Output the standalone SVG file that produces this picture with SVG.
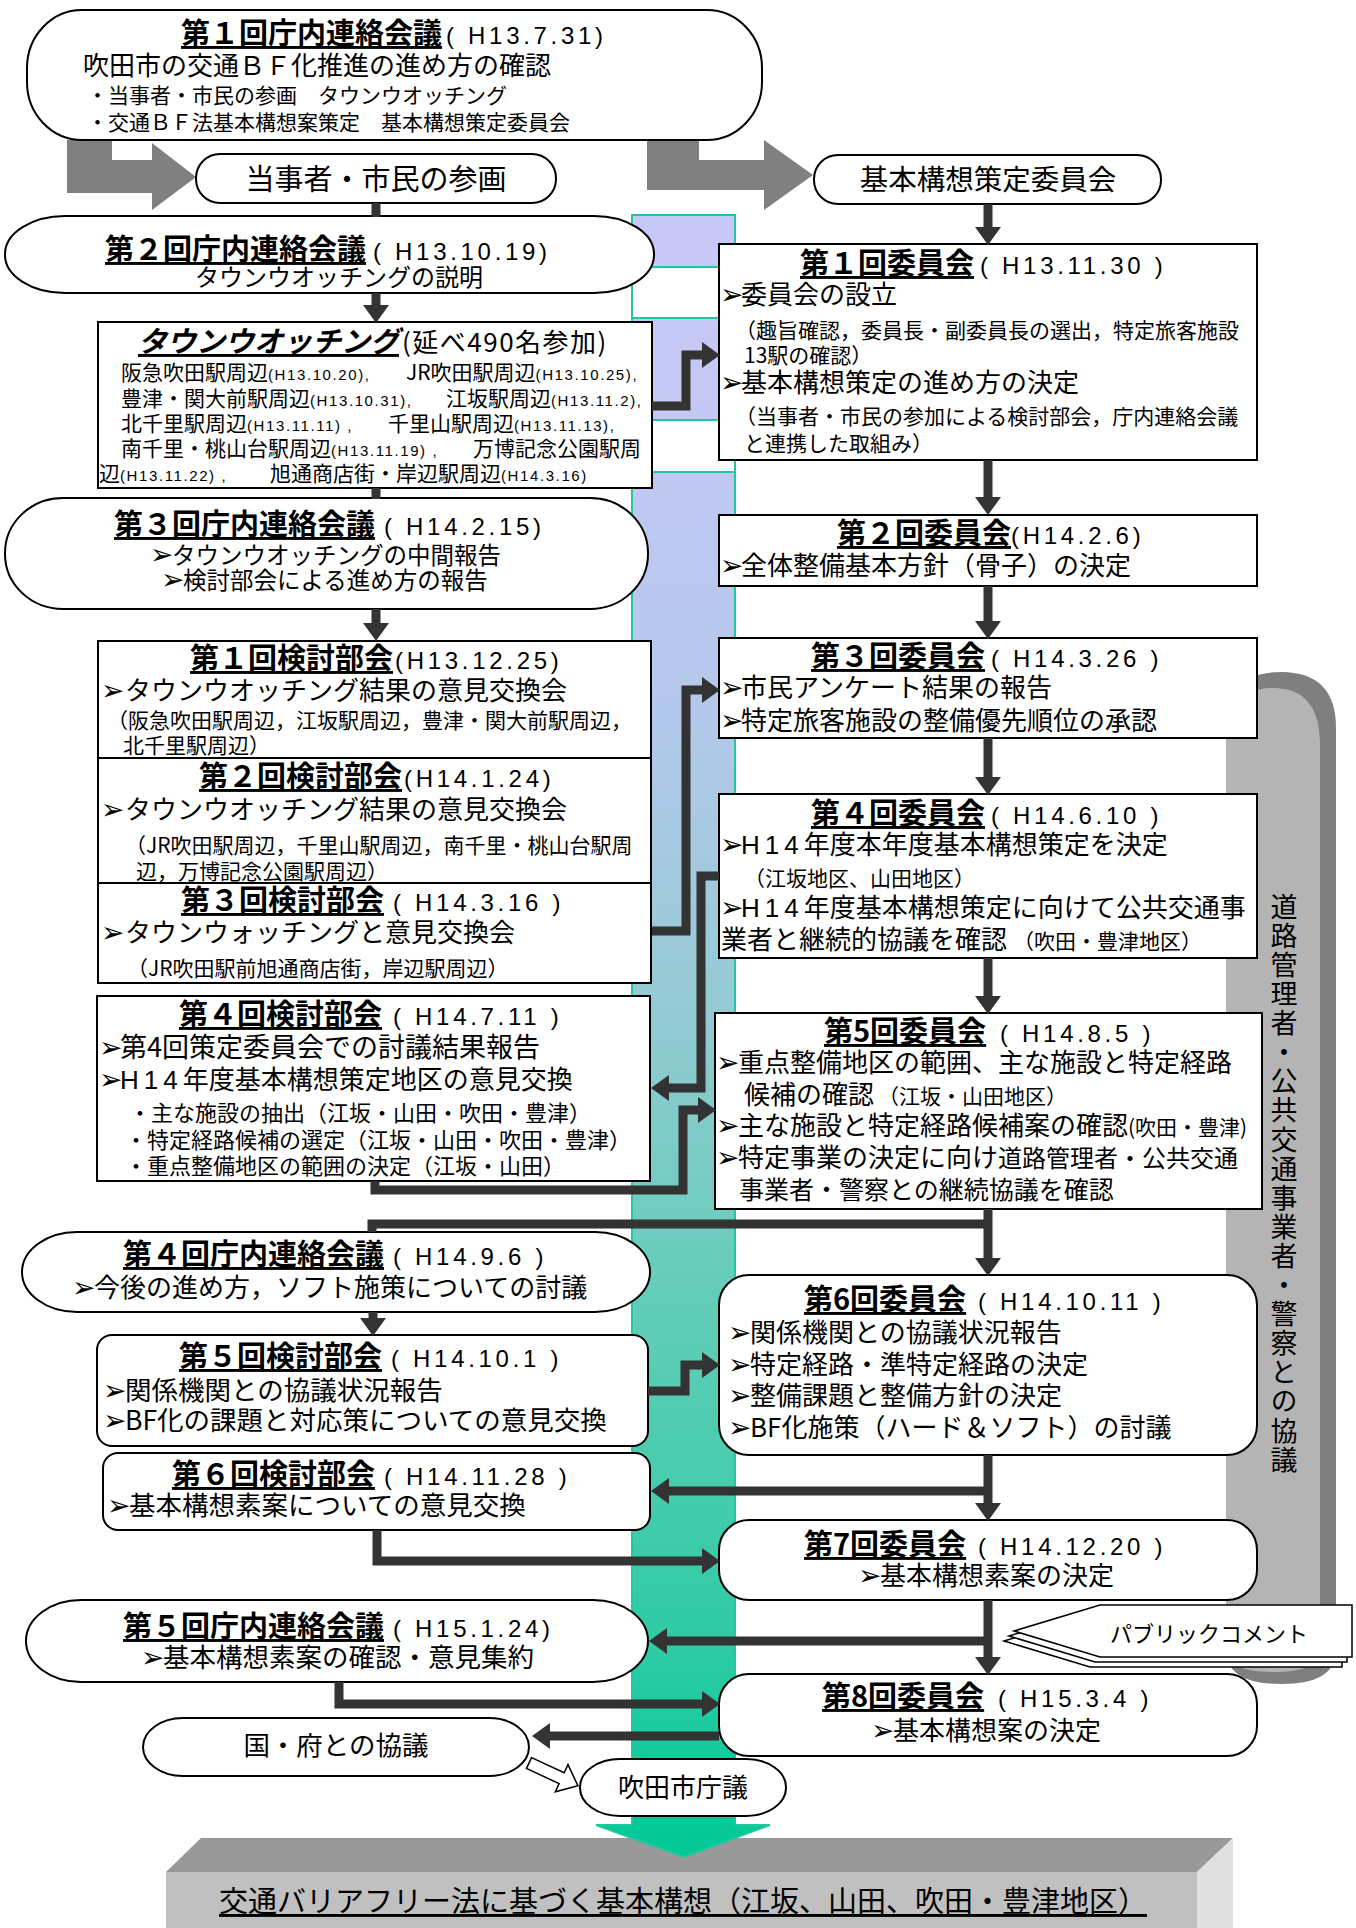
<svg xmlns="http://www.w3.org/2000/svg" width="1356" height="1928" viewBox="0 0 1356 1928">
<defs>
<linearGradient id="bandg" gradientUnits="userSpaceOnUse" x1="0" y1="215" x2="0" y2="1857">
<stop offset="0" stop-color="#c8c8f8"/>
<stop offset="0.11" stop-color="#c4c8f4"/>
<stop offset="0.30" stop-color="#b4c8ec"/>
<stop offset="0.48" stop-color="#95cad4"/>
<stop offset="0.66" stop-color="#62cdb8"/>
<stop offset="0.87" stop-color="#2ecba4"/>
<stop offset="1" stop-color="#00c896"/>
</linearGradient>
<marker id="ah" markerUnits="userSpaceOnUse" markerWidth="18" markerHeight="26" viewBox="0 0 18 26" refX="0" refY="13" orient="auto"><path d="M0,0 L18,13 L0,26 Z" fill="#333"/></marker>
<polygon id="paper" points="1014,1631 1100,1605 1352,1605 1352,1657 1100,1657"/>
</defs>
<style>
text{font-family:"Noto Sans CJK JP","Noto Sans CJK SC",sans-serif;fill:#000}
.n{fill:#fff;stroke:#000;stroke-width:2}
.h{font-weight:bold;text-decoration:underline;font-size:29px}
.d{font-family:"Liberation Sans","Noto Sans CJK JP",sans-serif;font-size:24px;letter-spacing:3.7px}
.s{font-family:"Liberation Sans","Noto Sans CJK JP",sans-serif;font-size:15px;letter-spacing:1.6px}
.hh{font-family:"Liberation Sans","Noto Sans CJK JP",sans-serif;font-size:26px;letter-spacing:5px}
.bu{font-family:"DejaVu Sans",sans-serif;font-size:28px}
.c{fill:none;stroke:#333;stroke-width:9}
.a{marker-end:url(#ah)}
.f26{font-size:26px}.f21{font-size:21px}.f22{font-size:22px}
</style>

<!-- bottom block -->
<g id="result">
<polygon points="166,1872 201,1838 1233,1838 1197,1872" fill="#999"/>
<rect x="166" y="1872" width="1031" height="56" fill="#c0c0c0"/>
<polygon points="1197,1872 1233,1838 1233,1928 1197,1928" fill="#e0e0e0"/>
<text x="219" y="1912" font-size="29" text-decoration="underline">交通バリアフリー法に基づく基本構想（江坂、山田、吹田・豊津地区）</text>
</g>

<!-- band -->
<g id="band">
<polygon points="632,215 735,215 735,1825 770,1825 684,1857 596,1825 632,1825" fill="url(#bandg)" stroke="#20c8a0" stroke-width="2"/>
<rect x="633" y="268" width="101" height="49" fill="#fff"/>
<rect x="633" y="421" width="101" height="50" fill="#fff"/>
<path d="M632,267 H735 M632,318 H735 M632,420 H735 M632,472 H735" stroke="#20c8a0" stroke-width="2" fill="none"/>
</g>

<!-- side bar -->
<g id="side">
<path d="M1226,1650 V728 Q1226,672 1281,672 Q1336,672 1336,728 V1650 Q1336,1684 1281,1684 Q1226,1684 1226,1650 Z" fill="#7f7f7f"/>
<path d="M1226,1650 V745 Q1226,688 1273,688 Q1320,688 1320,745 V1650 Q1320,1672 1273,1672 Q1226,1672 1226,1650 Z" fill="#b4b4b4"/>
<text x="1284" y="893" font-size="27" style="writing-mode:vertical-rl;letter-spacing:2.1px">道路管理者・公共交通事業者・警察との協議</text>
</g>

<!-- gray arrows -->
<g id="bigarrows" fill="#808080">
<polygon points="67,140 67,193 152,193 152,210 196,177 152,143 152,160 112,160 112,140"/>
<polygon points="647,140 647,190 764,190 764,210 813,175 764,140 764,160 699,160 699,140"/>
</g>

<g id="renraku1">
<rect class="n" x="27" y="10" width="735" height="130" rx="55" ry="58"/>
<text x="181" y="44"><tspan class="h">第１回庁内連絡会議</tspan><tspan class="d" x="446">( H13.7.31)</tspan></text>
<text x="83" y="75" class="f26">吹田市の交通ＢＦ化推進の進め方の確認</text>
<text x="87" y="103" class="f21">・当事者・市民の参画　タウンウオッチング</text>
<text x="87" y="130" class="f21">・交通ＢＦ法基本構想案策定　基本構想策定委員会</text>
</g>

<g id="sanka">
<rect class="n" x="196" y="154" width="360" height="49" rx="24"/>
<text x="376" y="190" text-anchor="middle" font-size="29">当事者・市民の参画</text>
</g>

<g id="iinkai">
<rect class="n" x="814" y="155" width="347" height="49" rx="24"/>
<text x="988" y="190" text-anchor="middle" font-size="28.5">基本構想策定委員会</text>
</g>

<g id="renraku2">
<rect class="n" x="5" y="216" width="649" height="77" rx="60" ry="38"/>
<text x="105" y="260"><tspan class="h">第２回庁内連絡会議</tspan><tspan class="d" x="373">( H13.10.19)</tspan></text>
<text x="339" y="286" text-anchor="middle" font-size="24">タウンウオッチングの説明</text>
</g>

<g id="townwatching">
<rect class="n" x="98" y="322" width="554" height="166"/>
<text x="138" y="352"><tspan font-weight="bold" font-style="italic" text-decoration="underline" font-size="29">タウンウオッチング</tspan><tspan font-size="26" x="402" letter-spacing="1.5">(延べ490名参加)</tspan></text>
<text y="380" class="f21"><tspan x="121">阪急吹田駅周辺</tspan><tspan class="s">(H13.10.20),</tspan><tspan x="406">JR吹田駅周辺</tspan><tspan class="s">(H13.10.25),</tspan></text>
<text y="406" class="f21"><tspan x="121">豊津・関大前駅周辺</tspan><tspan class="s">(H13.10.31),</tspan><tspan x="446">江坂駅周辺</tspan><tspan class="s">(H13.11.2),</tspan></text>
<text y="431" class="f21"><tspan x="121">北千里駅周辺</tspan><tspan class="s">(H13.11.11) ,</tspan><tspan x="388">千里山駅周辺</tspan><tspan class="s">(H13.11.13),</tspan></text>
<text y="456" class="f21"><tspan x="121">南千里・桃山台駅周辺</tspan><tspan class="s">(H13.11.19) ,</tspan><tspan x="473">万博記念公園駅周</tspan></text>
<text y="481" class="f21"><tspan x="99">辺</tspan><tspan class="s">(H13.11.22) ,</tspan><tspan x="270">旭通商店街・岸辺駅周辺</tspan><tspan class="s">(H14.3.16)</tspan></text>
</g>

<g id="renraku3">
<rect class="n" x="5" y="498" width="643" height="111" rx="58" ry="55"/>
<text x="114" y="535"><tspan class="h">第３回庁内連絡会議</tspan><tspan class="d" x="384">( H14.2.15)</tspan></text>
<text y="564" font-size="23.5"><tspan class="bu" x="150">➢</tspan><tspan x="172">タウンウオッチングの中間報告</tspan></text>
<text y="589" font-size="23.5"><tspan class="bu" x="161">➢</tspan><tspan x="183">検討部会による進め方の報告</tspan></text>
</g>

<g id="kentou1">
<rect class="n" x="98" y="641" width="553" height="117"/>
<text x="190" y="669"><tspan class="h">第１回検討部会</tspan><tspan class="d" x="395">(H13.12.25)</tspan></text>
<text y="700" class="f26"><tspan class="bu" x="101">➢</tspan><tspan x="125">タウンウオッチング結果の意見交換会</tspan></text>
<text x="107" y="728" class="f21">（阪急吹田駅周辺，江坂駅周辺，豊津・関大前駅周辺，</text>
<text x="123" y="753" class="f21">北千里駅周辺）</text>
</g>

<g id="kentou2">
<rect class="n" x="98" y="758" width="553" height="125"/>
<text x="199" y="787"><tspan class="h">第２回検討部会</tspan><tspan class="d" x="404">(H14.1.24)</tspan></text>
<text y="819" class="f26"><tspan class="bu" x="101">➢</tspan><tspan x="125">タウンウオッチング結果の意見交換会</tspan></text>
<text x="125" y="853" class="f21">（JR吹田駅周辺，千里山駅周辺，南千里・桃山台駅周</text>
<text x="136" y="879" class="f21">辺，万博記念公園駅周辺）</text>
</g>

<g id="kentou3">
<rect class="n" x="98" y="883" width="553" height="100"/>
<text x="181" y="911"><tspan class="h">第３回検討部会</tspan><tspan class="d" x="393">( H14.3.16 )</tspan></text>
<text y="942" class="f26"><tspan class="bu" x="101">➢</tspan><tspan x="125">タウンウォッチングと意見交換会</tspan></text>
<text x="127" y="976" class="f21">（JR吹田駅前旭通商店街，岸辺駅周辺）</text>
</g>

<g id="kentou4">
<rect class="n" x="97" y="996" width="553" height="185"/>
<text x="179" y="1025"><tspan class="h">第４回検討部会</tspan><tspan class="d" x="393">( H14.7.11 )</tspan></text>
<text y="1057" font-size="27"><tspan class="bu" x="99">➢</tspan><tspan x="120">第4回策定委員会での討議結果報告</tspan></text>
<text y="1089" class="f26"><tspan class="bu" x="99">➢</tspan><tspan class="hh" x="120">H14</tspan><tspan>年度基本構想策定地区の意見交換</tspan></text>
<text x="129" y="1121" class="f22">・主な施設の抽出（江坂・山田・吹田・豊津）</text>
<text x="125" y="1148" class="f22">・特定経路候補の選定（江坂・山田・吹田・豊津）</text>
<text x="125" y="1174" class="f22">・重点整備地区の範囲の決定（江坂・山田）</text>
</g>

<g id="renraku4">
<rect class="n" x="22" y="1232" width="628" height="80" rx="55" ry="40"/>
<text x="123" y="1265"><tspan class="h">第４回庁内連絡会議</tspan><tspan class="d" x="393">( H14.9.6 )</tspan></text>
<text y="1297" class="f26"><tspan class="bu" x="72">➢</tspan><tspan x="94">今後の進め方，ソフト施策についての討議</tspan></text>
</g>

<g id="kentou5">
<rect class="n" x="97" y="1335" width="551" height="111" rx="15"/>
<text x="179" y="1367"><tspan class="h">第５回検討部会</tspan><tspan class="d" x="391">( H14.10.1 )</tspan></text>
<text y="1400" font-size="26.5"><tspan class="bu" x="103">➢</tspan><tspan x="125">関係機関との協議状況報告</tspan></text>
<text y="1430" font-size="26.5"><tspan class="bu" x="103">➢</tspan><tspan x="125">BF化の課題と対応策についての意見交換</tspan></text>
</g>

<g id="kentou6">
<rect class="n" x="103" y="1453" width="547" height="77" rx="15"/>
<text x="172" y="1485"><tspan class="h">第６回検討部会</tspan><tspan class="d" x="384">( H14.11.28 )</tspan></text>
<text y="1515" font-size="26.5"><tspan class="bu" x="107">➢</tspan><tspan x="129">基本構想素案についての意見交換</tspan></text>
</g>

<g id="renraku5">
<rect class="n" x="26" y="1600" width="622" height="82" rx="55" ry="41"/>
<text x="123" y="1637"><tspan class="h">第５回庁内連絡会議</tspan><tspan class="d" x="393">( H15.1.24)</tspan></text>
<text y="1667" font-size="26.5"><tspan class="bu" x="141">➢</tspan><tspan x="163">基本構想素案の確認・意見集約</tspan></text>
</g>

<g id="kuni">
<rect class="n" x="143" y="1718" width="386" height="58" rx="40" ry="29"/>
<text x="336" y="1755" text-anchor="middle" font-size="26.5">国・府との協議</text>
</g>

<g id="chougi">
<rect class="n" x="580" y="1759" width="206" height="57" rx="40" ry="28"/>
<text x="683" y="1797" text-anchor="middle" font-size="26">吹田市庁議</text>
</g>

<polygon id="hollowarrow" points="0,-6 36,-6 36,-15 54,0 36,15 36,6 0,6" transform="translate(529,1763) rotate(25)" fill="#fff" stroke="#000" stroke-width="1.5"/>

<g id="iin1">
<rect class="n" x="719" y="244" width="538" height="216"/>
<text x="800" y="274"><tspan class="h">第１回委員会</tspan><tspan class="d" x="980">( H13.11.30 )</tspan></text>
<text y="304" class="f26"><tspan class="bu" x="720">➢</tspan><tspan x="741">委員会の設立</tspan></text>
<text x="735" y="338" class="f21">（趣旨確認，委員長・副委員長の選出，特定旅客施設</text>
<text x="744" y="363" class="f21">13駅の確認）</text>
<text y="392" class="f26"><tspan class="bu" x="720">➢</tspan><tspan x="741">基本構想策定の進め方の決定</tspan></text>
<text x="735" y="424" class="f21">（当事者・市民の参加による検討部会，庁内連絡会議</text>
<text x="744" y="451" class="f21">と連携した取組み）</text>
</g>

<g id="iin2">
<rect class="n" x="719" y="515" width="538" height="71"/>
<text x="837" y="544"><tspan class="h">第２回委員会</tspan><tspan class="d" x="1011">(H14.2.6)</tspan></text>
<text y="575" class="f26"><tspan class="bu" x="720">➢</tspan><tspan x="741">全体整備基本方針（骨子）の決定</tspan></text>
</g>

<g id="iin3">
<rect class="n" x="719" y="638" width="538" height="100"/>
<text x="811" y="667"><tspan class="h">第３回委員会</tspan><tspan class="d" x="991">( H14.3.26 )</tspan></text>
<text y="697" class="f26"><tspan class="bu" x="720">➢</tspan><tspan x="741">市民アンケート結果の報告</tspan></text>
<text y="730" class="f26"><tspan class="bu" x="720">➢</tspan><tspan x="741">特定旅客施設の整備優先順位の承認</tspan></text>
</g>

<g id="iin4">
<rect class="n" x="719" y="794" width="538" height="164"/>
<text x="811" y="824"><tspan class="h">第４回委員会</tspan><tspan class="d" x="991">( H14.6.10 )</tspan></text>
<text y="854" class="f26"><tspan class="bu" x="720">➢</tspan><tspan class="hh" x="741">H14</tspan><tspan>年度本年度基本構想策定を決定</tspan></text>
<text x="744" y="886" class="f21">（江坂地区、山田地区）</text>
<text y="917" class="f26"><tspan class="bu" x="720">➢</tspan><tspan class="hh" x="741">H14</tspan><tspan>年度基本構想策定に向けて公共交通事</tspan></text>
<text y="949" class="f26"><tspan x="721">業者と継続的協議を確認</tspan><tspan x="1013" font-size="21">（吹田・豊津地区）</tspan></text>
</g>

<g id="iin5">
<rect class="n" x="715" y="1013" width="547" height="196"/>
<text x="824" y="1042"><tspan class="h">第5回委員会</tspan><tspan class="d" x="1000">( H14.8.5 )</tspan></text>
<text y="1072" class="f26"><tspan class="bu" x="716">➢</tspan><tspan x="738">重点整備地区の範囲、主な施設と特定経路</tspan></text>
<text y="1104" class="f26"><tspan x="744">候補の確認</tspan><tspan x="878" font-size="21">（江坂・山田地区）</tspan></text>
<text y="1135" class="f26"><tspan class="bu" x="716">➢</tspan><tspan x="738">主な施設と特定経路候補案の確認</tspan><tspan font-size="21">(吹田・豊津)</tspan></text>
<text y="1167" class="f26"><tspan class="bu" x="716">➢</tspan><tspan x="738">特定事業の決定に向け</tspan><tspan font-size="24">道路管理者・公共交通</tspan></text>
<text x="739" y="1199" font-size="25">事業者・警察との継続協議を確認</text>
</g>

<g id="iin6">
<rect class="n" x="719" y="1275" width="538" height="180" rx="30"/>
<text x="804" y="1310"><tspan class="h">第6回委員会</tspan><tspan class="d" x="978">( H14.10.11 )</tspan></text>
<text y="1342" class="f26"><tspan class="bu" x="728">➢</tspan><tspan x="750">関係機関との協議状況報告</tspan></text>
<text y="1374" class="f26"><tspan class="bu" x="728">➢</tspan><tspan x="750">特定経路・準特定経路の決定</tspan></text>
<text y="1405" class="f26"><tspan class="bu" x="728">➢</tspan><tspan x="750">整備課題と整備方針の決定</tspan></text>
<text y="1437" class="f26"><tspan class="bu" x="728">➢</tspan><tspan x="750">BF化施策（ハード＆ソフト）の討議</tspan></text>
</g>

<g id="iin7">
<rect class="n" x="719" y="1520" width="538" height="80" rx="30"/>
<text x="804" y="1555"><tspan class="h">第7回委員会</tspan><tspan class="d" x="978">( H14.12.20 )</tspan></text>
<text y="1585" class="f26"><tspan class="bu" x="858">➢</tspan><tspan x="880">基本構想素案の決定</tspan></text>
</g>

<g id="pubcom">
<use href="#paper" transform="translate(-10,10)" fill="#fff" stroke="#000" stroke-width="1.5"/>
<use href="#paper" transform="translate(-5,5)" fill="#fff" stroke="#000" stroke-width="1.5"/>
<use href="#paper" fill="#fff" stroke="#000" stroke-width="1.5"/>
<text x="1110" y="1642" font-size="22">パブリックコメント</text>
</g>

<g id="iin8">
<rect class="n" x="719" y="1674" width="538" height="82" rx="30"/>
<text x="822" y="1707"><tspan class="h">第8回委員会</tspan><tspan class="d" x="998">( H15.3.4 )</tspan></text>
<text y="1740" class="f26"><tspan class="bu" x="871">➢</tspan><tspan x="893">基本構想案の決定</tspan></text>
</g>

<g id="connectors">
<path class="c a" d="M988,204 V227"/>
<path class="c" d="M376,203 V217"/>
<path class="c a" d="M376,293 V305"/>
<path class="c" d="M376,488 V499"/>
<path class="c a" d="M652,406 H686 V355 H702"/>
<path class="c a" d="M988,460 V497"/>
<path class="c a" d="M988,586 V621"/>
<path class="c a" d="M376,609 V623"/>
<path class="c a" d="M652,931 H686 V690 H702"/>
<path class="c a" d="M988,738 V777"/>
<path class="c a" d="M719,876 H701 V1088 H669"/>
<path class="c a" d="M988,958 V996"/>
<path class="c a" d="M375,1181 V1190 H683 V1110 H698"/>
<path class="c a" d="M988,1209 V1258"/>
<path class="c" d="M372,1232 V1224 H988"/>
<path class="c a" d="M373,1312 V1318"/>
<path class="c a" d="M648,1391 H685 V1365 H702"/>
<path class="c a" d="M988,1455 V1503"/>
<path class="c a" d="M988,1491 H669"/>
<path class="c a" d="M377,1530 V1561 H702"/>
<path class="c a" d="M988,1600 V1657"/>
<path class="c a" d="M988,1641 H667"/>
<path class="c a" d="M339,1682 V1704 H702"/>
<path class="c a" d="M719,1736 H550"/>
</g>
</svg>
